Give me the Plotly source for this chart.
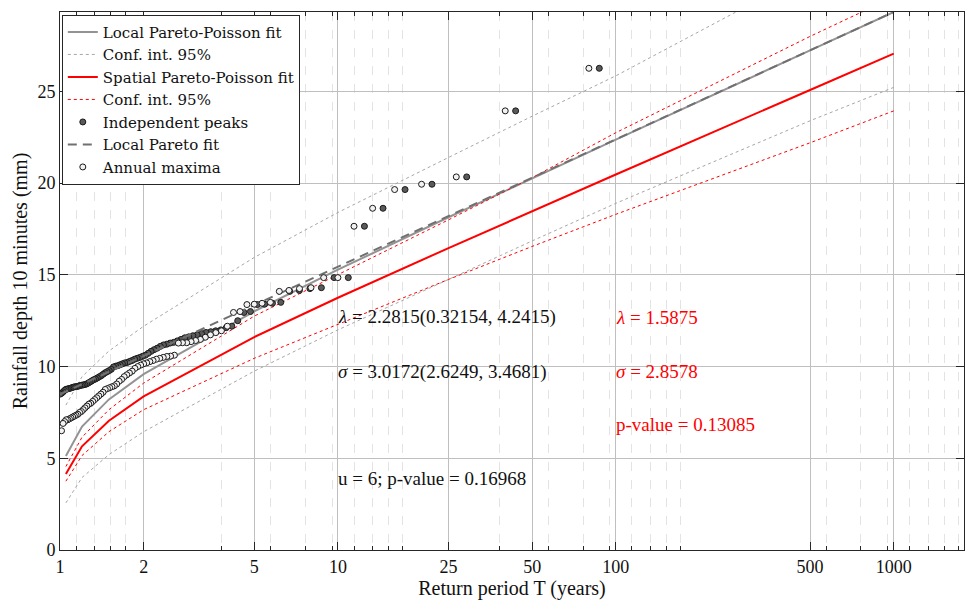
import math
import plotly.graph_objects as go

# ---------------- data ----------------
T_fit = [1.05, 1.2, 1.5, 2, 5, 10, 25, 50, 100, 500, 1000]
local_fit = [5.13, 6.73, 8.21, 9.59, 13.01, 15.28, 18.14, 20.26, 22.37, 27.24, 29.33]
local_upper = [7.9, 9.45, 10.85, 12.2, 15.95, 18.4, 21.4, 23.65, 25.85, 31.5, 33.9]
local_lower = [2.57, 3.95, 5.2, 6.45, 9.75, 12.0, 14.75, 16.85, 18.9, 23.4, 25.22]
spatial_fit = [4.14, 5.65, 7.05, 8.37, 11.61, 13.75, 16.46, 18.47, 20.47, 25.08, 27.06]
spatial_upper = [4.55, 6.15, 7.65, 9.1, 12.75, 15.0, 18.0, 20.3, 22.75, 28.0, 30.15]
spatial_lower = [3.75, 5.15, 6.45, 7.65, 10.45, 12.3, 14.75, 16.55, 18.3, 22.2, 23.94]

T_pareto = [1, 1.05, 1.2, 1.5, 2, 5, 10, 25, 50, 100, 500, 1000]
pareto_fit = [8.49, 8.64, 9.04, 9.71, 10.58, 13.35, 15.44, 18.20, 20.29, 22.38, 27.24, 29.33]

# annual maxima (79 years), sorted descending
annual_maxima = [26.26, 23.94, 20.34, 19.94, 19.65, 18.63, 17.65, 14.85, 14.85, 14.3,
                 14.25, 14.15, 14.1, 13.5, 13.45, 13.4, 13.38, 13.0, 12.95, 12.2,
                 11.95, 11.85, 11.73, 11.6, 11.48, 11.42, 11.36, 11.3, 11.3, 11.28,
                 10.62, 10.57, 10.55, 10.5, 10.45, 10.4, 10.33, 10.27, 10.2, 10.15,
                 10.08, 10.0, 9.9, 9.75, 9.65, 9.55, 9.45, 9.3, 9.2, 9.05,
                 8.95, 8.9, 8.85, 8.8, 8.75, 8.6, 8.5, 8.4, 8.3, 8.2,
                 8.1, 8.0, 7.95, 7.85, 7.75, 7.65, 7.55, 7.5, 7.4, 7.35,
                 7.3, 7.25, 7.2, 7.15, 7.1, 7.1, 7.0, 6.9, 6.5]
# independent peaks, sorted descending
peaks = [26.26, 23.94, 20.34, 19.94, 19.65, 18.63, 17.65, 14.85, 14.85, 14.3,
         14.25, 14.15, 14.1, 13.5, 13.45, 13.4, 13.38, 13.0, 12.95, 12.5,
         12.2, 12.12, 12.0, 11.95, 11.9, 11.86, 11.8, 11.73, 11.68, 11.62,
         11.57, 11.48, 11.4, 11.32, 11.28, 11.22, 11.18, 11.1, 11.0, 10.92,
         10.83, 10.72, 10.62, 10.56, 10.5, 10.45, 10.4, 10.33, 10.28, 10.22,
         10.2, 10.15, 10.1, 10.05, 10.02, 9.98, 9.85, 9.78, 9.72, 9.66,
         9.58, 9.5, 9.44, 9.38, 9.32, 9.28, 9.22, 9.16, 9.1, 9.05,
         9.02, 9.0, 8.98, 8.96, 8.93, 8.91, 8.9, 8.88, 8.85, 8.82,
         8.8, 8.78, 8.76, 8.7, 8.62, 8.55, 8.5]
n_years = len(annual_maxima)
peaks_T_scale = 87.2  # return period of the largest peak (years)

# plotting positions from ranks
T_annual = [(n_years + 1) / (i + 1) for i in range(len(annual_maxima))]
T_peaks = [peaks_T_scale / (i + 1) for i in range(len(peaks))]

x_major = [1, 2, 5, 10, 25, 50, 100, 500, 1000]
x_minor = [1.143, 1.333, 1.524, 1.714, 3.81, 5.715, 7.62, 9.525,
           11.43, 13.33, 15.24, 17.14, 38.1, 57.15, 76.2, 95.25,
           114.3, 133.3, 152.4, 171.4, 571.5, 762, 952.5,
           1143, 1333, 1524, 1714]
y_major = [0, 5, 10, 15, 20, 25]

FONT = "Liberation Serif"
LEGFONT = "DejaVu Serif"
TXT = "#111111"
GRAY = "#939393"
RED = "#ff0000"

fig = go.Figure()
fig.add_trace(go.Scatter(x=T_fit, y=local_fit, mode="lines", name="Local Pareto-Poisson fit",
                         line=dict(color=GRAY, width=2)))
fig.add_trace(go.Scatter(x=T_fit, y=local_upper, mode="lines", name="Conf. int. 95%",
                         line=dict(color="#a6a6a6", width=1, dash="3px,3px")))
fig.add_trace(go.Scatter(x=T_fit, y=local_lower, mode="lines", name="Conf. int. 95%", showlegend=False,
                         line=dict(color="#a6a6a6", width=1, dash="3px,3px")))
fig.add_trace(go.Scatter(x=T_fit, y=spatial_fit, mode="lines", name="Spatial Pareto-Poisson fit",
                         line=dict(color=RED, width=2)))
fig.add_trace(go.Scatter(x=T_fit, y=spatial_upper, mode="lines", name="Conf. int. 95%",
                         line=dict(color=RED, width=1, dash="3px,3px")))
fig.add_trace(go.Scatter(x=T_fit, y=spatial_lower, mode="lines", name="Conf. int. 95%", showlegend=False,
                         line=dict(color=RED, width=1, dash="3px,3px")))
fig.add_trace(go.Scatter(x=T_peaks, y=peaks, mode="markers", name="Independent peaks",
                         marker=dict(symbol="circle", size=6, color="#5a5a5a",
                                     line=dict(color="#1a1a1a", width=1))))
fig.add_trace(go.Scatter(x=T_pareto, y=pareto_fit, mode="lines", name="Local Pareto fit",
                         line=dict(color="#707070", width=2, dash="9px,6px")))
fig.add_trace(go.Scatter(x=T_annual, y=annual_maxima, mode="markers", name="Annual maxima",
                         marker=dict(symbol="circle", size=6, color="#f2f2f2",
                                     line=dict(color="#1a1a1a", width=1))))

ann_black = [(10, 12.68, "<i>λ</i> = 2.2815(0.32154, 4.2415)"),
             (10, 9.73, "<i>σ</i> = 3.0172(2.6249, 3.4681)"),
             (10, 3.90, "u = 6; p-value = 0.16968")]
ann_red = [(100, 12.68, "<i>λ</i> = 1.5875"),
           (100, 9.73, "<i>σ</i> = 2.8578"),
           (100, 6.84, "p-value = 0.13085")]
for xv, yv, txt in ann_black:
    fig.add_annotation(x=math.log10(xv), y=yv, text=txt, showarrow=False, xanchor="left",
                       yanchor="middle", xshift=-2, font=dict(family=FONT, size=19, color=TXT))
for xv, yv, txt in ann_red:
    fig.add_annotation(x=math.log10(xv), y=yv, text=txt, showarrow=False, xanchor="left",
                       yanchor="middle", xshift=-2, font=dict(family=FONT, size=19, color=RED))

fig.update_layout(
    width=965, height=600,
    margin=dict(l=60, r=1, t=12, b=50),
    paper_bgcolor="white", plot_bgcolor="white",
    font=dict(family=FONT, size=18, color=TXT),
    showlegend=True,
    legend=dict(x=0.002, y=0.995, xanchor="left", yanchor="top",
                bgcolor="white", bordercolor="#262626", borderwidth=1,
                font=dict(family=LEGFONT, size=15, color=TXT),
                itemwidth=30, tracegroupgap=0),
    xaxis=dict(type="log", range=[0, math.log10(1790)],
               tickmode="array", tickvals=x_major, ticktext=[str(v) for v in x_major],
               ticks="inside", ticklen=8, tickcolor="#262626", tickwidth=1,
               showline=True, linecolor="#262626", linewidth=1, mirror="ticks",
               showgrid=True, gridcolor="#bfbfbf", gridwidth=1,
               zeroline=False,
               tickfont=dict(family=FONT, size=18, color=TXT),
               title=dict(text="Return period T (years)", standoff=4,
                          font=dict(family=FONT, size=20, color=TXT)),
               minor=dict(tickmode="array", tickvals=x_minor, ticks="inside", ticklen=4,
                          tickcolor="#262626", showgrid=True, gridcolor="#e3e3e3",
                          griddash="dash", gridwidth=1)),
    yaxis=dict(range=[0, 29.33], tickmode="array", tickvals=y_major,
               ticks="inside", ticklen=8, tickcolor="#262626",
               showline=True, linecolor="#262626", linewidth=1, mirror="ticks",
               showgrid=True, gridcolor="#bfbfbf", gridwidth=1, zeroline=False,
               tickfont=dict(family=FONT, size=18, color=TXT),
               title=dict(text="Rainfall depth 10 minutes (mm)", standoff=4,
                          font=dict(family=FONT, size=20, color=TXT))),
)

fig.write_html("out.html")
